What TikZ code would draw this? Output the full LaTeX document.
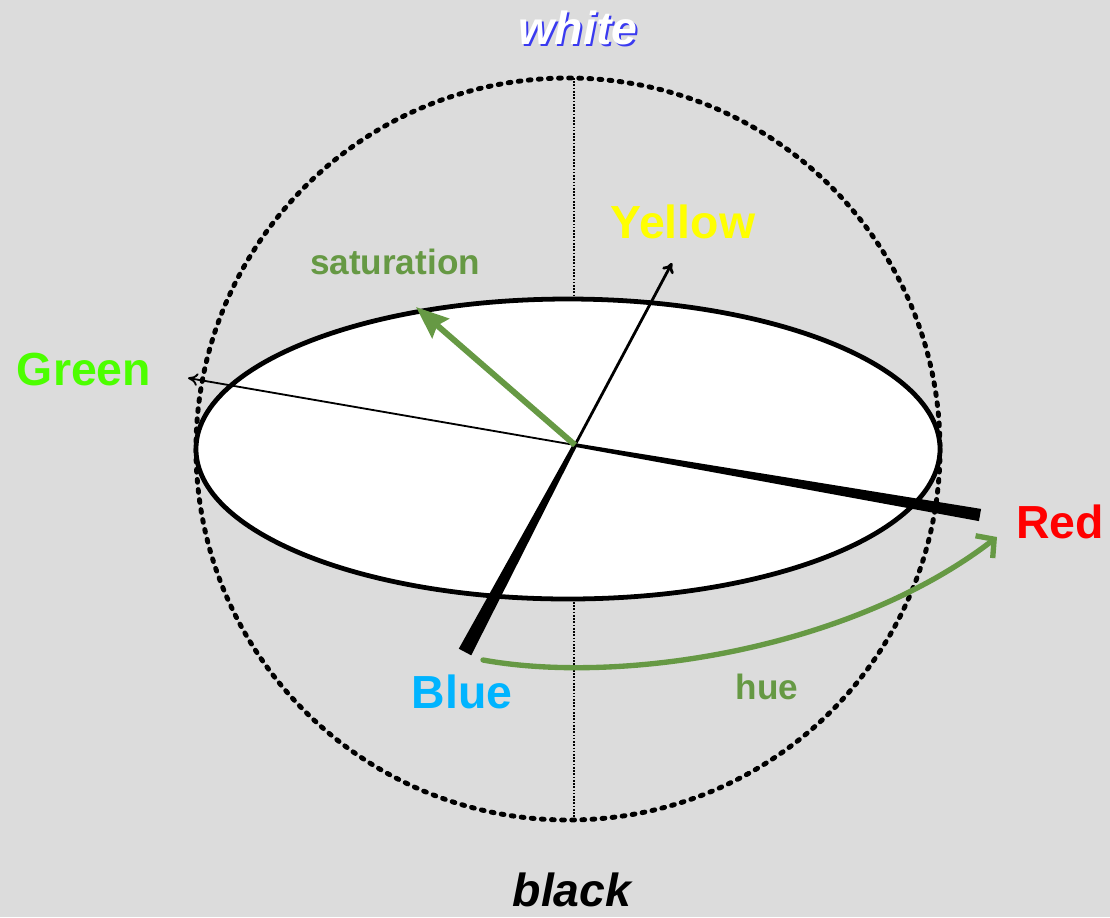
\documentclass[tikz,border=0pt]{standalone}
\usepackage{fontspec}
\setmainfont{Liberation Sans}
\usepackage{tikz}
\usetikzlibrary{arrows.meta,calc}
\definecolor{bgray}{HTML}{DCDCDC}
\definecolor{satgreen}{HTML}{669944}
\definecolor{lblgreen}{HTML}{4CFF00}
\definecolor{lblyellow}{HTML}{FFFF00}
\definecolor{lblred}{HTML}{FF0000}
\definecolor{lblblue}{HTML}{00B4FF}
\definecolor{shadeblue}{HTML}{3A3AF0}
\tikzset{
  lbl/.style     ={inner sep=0pt, font=\fontsize{33}{38}\selectfont\bfseries},
  pole/.style    ={inner sep=0pt, font=\fontsize{33}{38}\selectfont\bfseries\itshape},
  small/.style   ={inner sep=0pt, text=satgreen, font=\fontsize{25}{30}\selectfont\bfseries},
  sphere/.style  ={draw=black, line width=3.5pt, line cap=round,
                   dash pattern=on 2pt off 5.2pt},
  vaxis/.style   ={draw=black, line width=1.5pt, dash pattern=on 1.2pt off 1.1pt},
  disc/.style    ={draw=black, fill=white, line width=3.4pt},
  % thin half of an axis, ends in an open tip
  axisthin/.style={draw=black, -{To[length=7pt,width=9pt]}},
  satarrow/.style={draw=satgreen, line width=4.2pt,
                   -{Stealth[length=23pt,width=18pt,inset=3pt]}},
  huearc/.style  ={draw=satgreen, line width=3.8pt, line cap=round,
                   -{Straight Barb[length=9pt,width=20pt,line width=3.8pt]}},
}
\begin{document}
\begin{tikzpicture}[x=0.025cm,y=-0.025cm]
\fill[bgray] (0,0) rectangle (1110,917);
\useasboundingbox (0,0) rectangle (1110,917);
\coordinate (c) at (575,445);
\coordinate (top) at (574,78);
\coordinate (bot) at (574,820);
\coordinate (gEnd) at (188,378);
\coordinate (rEnd) at (980,515);
\coordinate (yEnd) at (672,263);
\coordinate (bEnd) at (465,652);
\coordinate (satEnd) at (416,307);
\coordinate (hueA) at (483,660);
\coordinate (hueB) at (997,537);
% sphere and grey axis
\draw[sphere] (568,449) ellipse (372 and 371);
\draw[vaxis] (top) -- (bot);
\draw[disc] (568,449) ellipse (372 and 150);
% colour axes
\draw[axisthin, line width=1.3pt] (c) -- (gEnd);
\draw[axisthin, line width=2pt] (c) -- (yEnd);
\fill[black] ($(c)!1.3pt!90:(rEnd)$) -- ($(rEnd)!4.4pt!-90:(c)$)
  -- ($(rEnd)!4.4pt!90:(c)$) -- ($(c)!1.3pt!-90:(rEnd)$) -- cycle;
\fill[black] ($(c)!1.6pt!90:(bEnd)$) -- ($(bEnd)!5pt!-90:(c)$)
  -- ($(bEnd)!5pt!90:(c)$) -- ($(c)!1.6pt!-90:(bEnd)$) -- cycle;
\draw[satarrow] (c) -- (satEnd);
\draw[huearc] (hueA) .. controls (620,685) and (850,650) .. (hueB);
% labels
\node[pole, text=shadeblue] (whiteS) at (580,30) {white};
\node[pole, text=white] (whiteT) at (578,28) {white};
\node[pole, text=black] (blackT) at (572,890) {black};
\node[lbl, text=lblgreen] (greenT) at (84,370) {Green};
\node[lbl, text=lblyellow] (yellowT) at (683,222) {Yellow};
\node[lbl, text=lblred] (redT) at (1060,522) {Red};
\node[lbl, text=lblblue] (blueT) at (462,692) {Blue};
\node[small] (satT) at (395,262) {saturation};
\node[small] (hueT) at (767,687) {hue};
\end{tikzpicture}
\end{document}
